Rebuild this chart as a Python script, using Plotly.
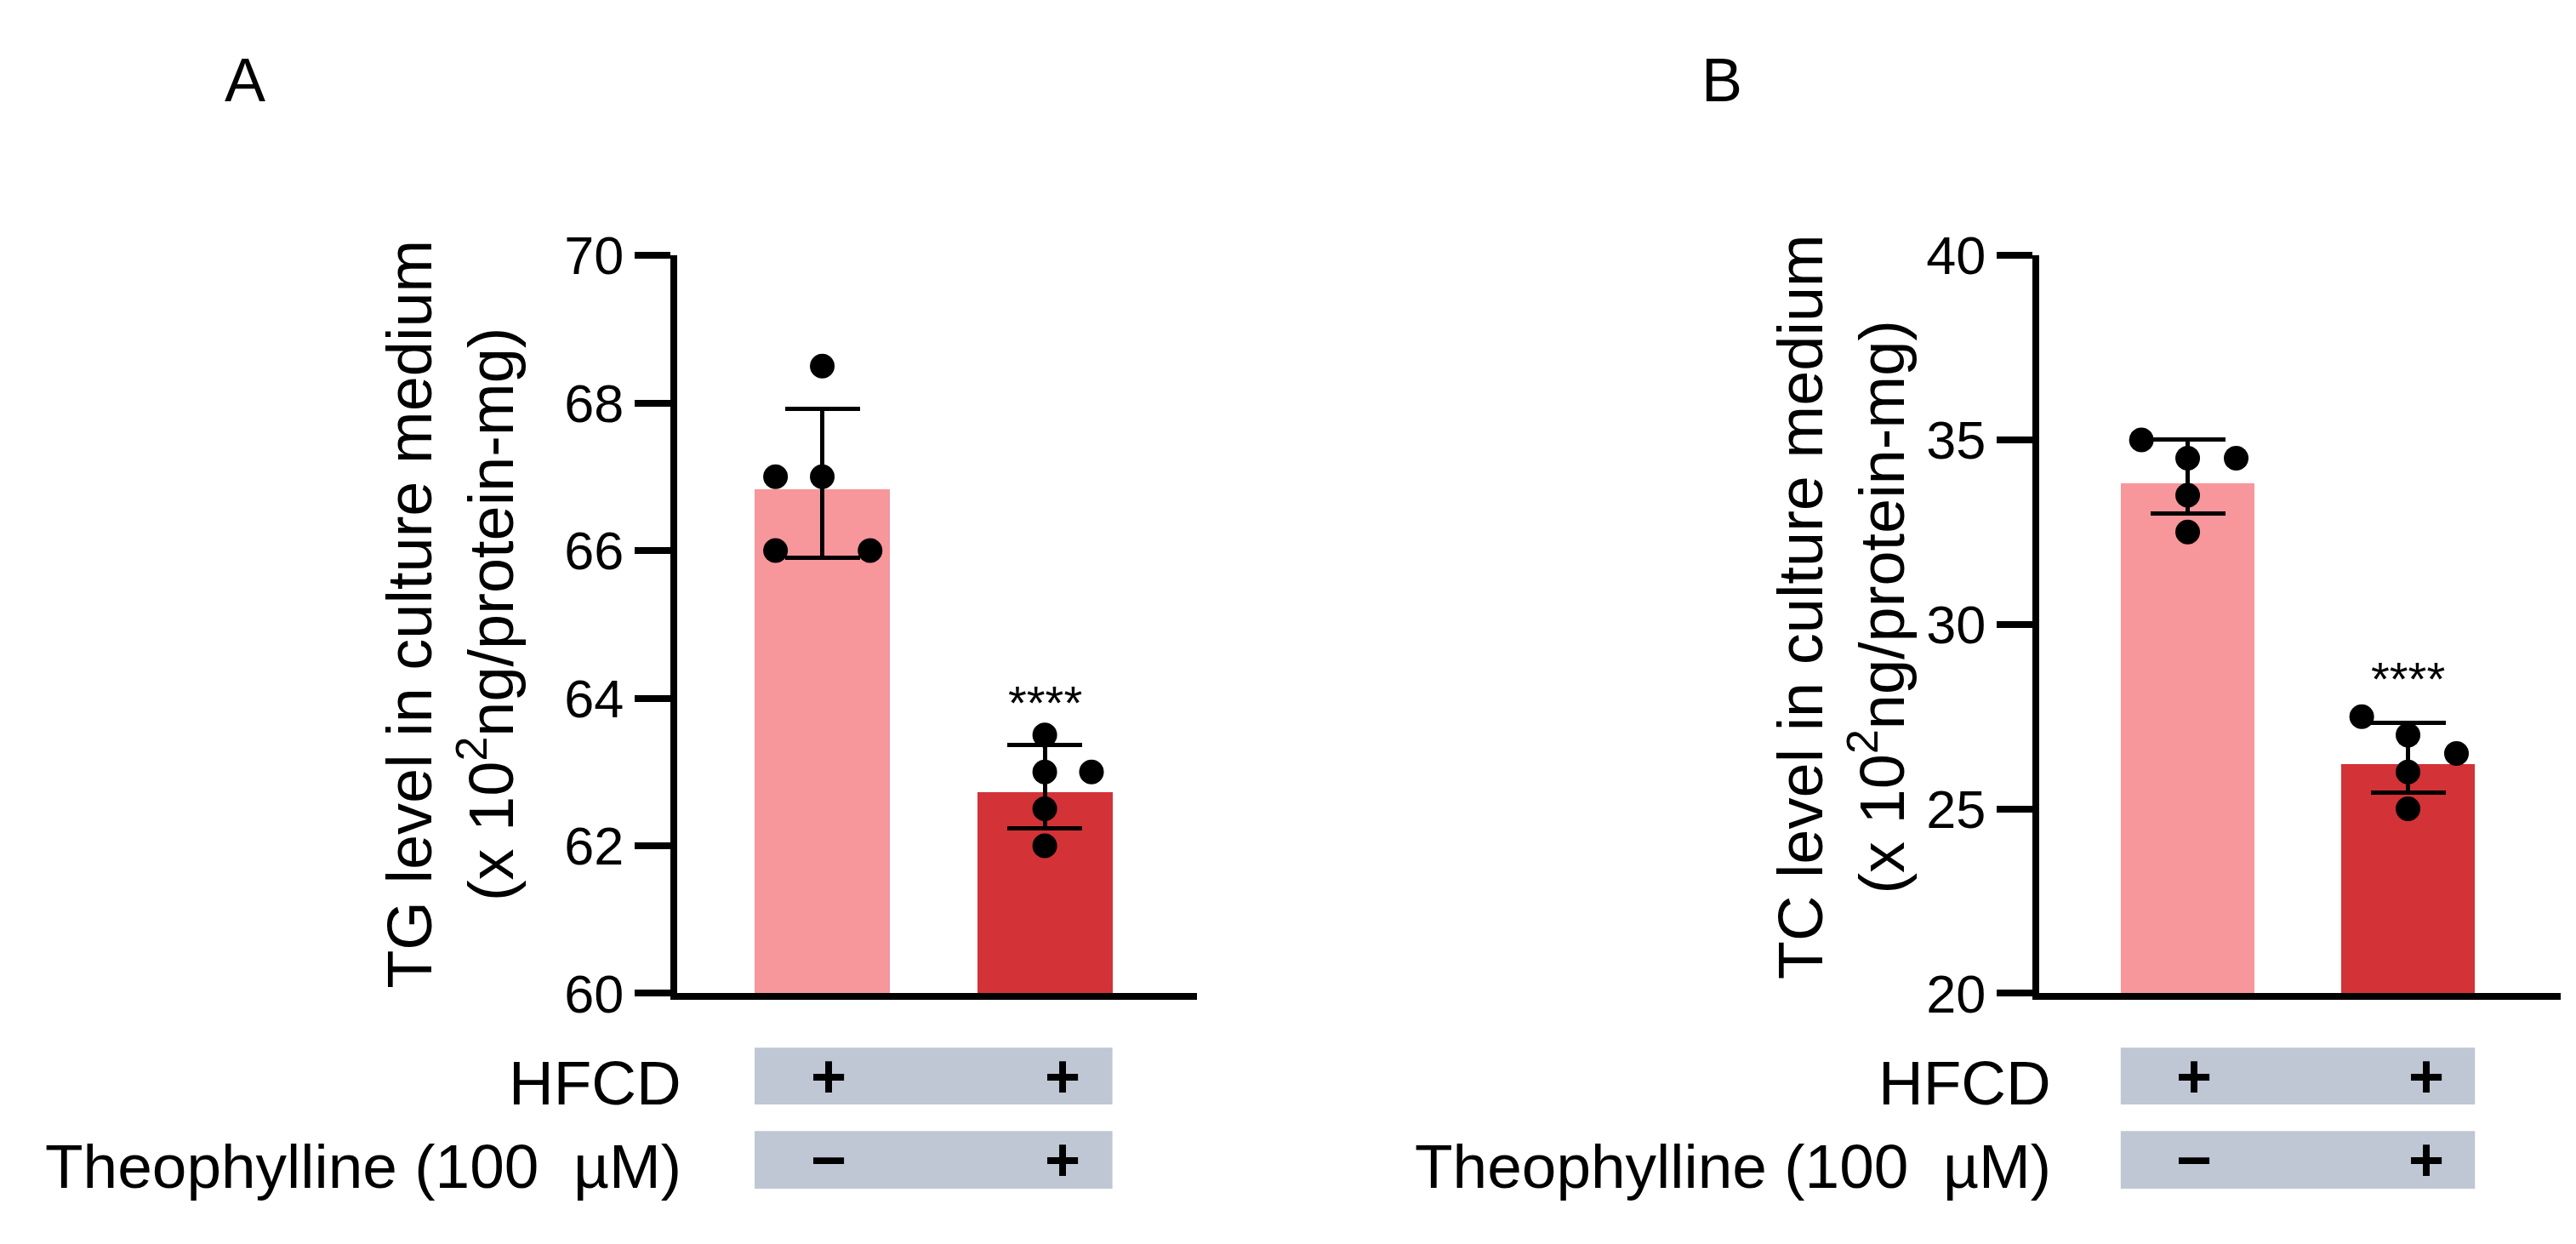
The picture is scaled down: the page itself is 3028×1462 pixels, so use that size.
import plotly.graph_objects as go

# ---------------- data ----------------
groups = ["HFCD", "HFCD + Theophylline"]

tg_mean = [66.83, 62.72]
tg_err_plus = [1.09, 0.65]
tg_err_minus = [0.93, 0.48]
tg_points_ctrl = [68.5, 67.0, 67.0, 66.0, 66.0]
tg_points_theo = [63.5, 63.0, 63.0, 62.5, 62.0]

tc_mean = [33.83, 26.22]
tc_err_plus = [1.17, 1.12]
tc_err_minus = [0.82, 0.79]
tc_points_ctrl = [35.0, 34.5, 34.5, 33.5, 32.5]
tc_points_theo = [27.5, 27.0, 26.5, 26.0, 25.0]

tg_ticks = [60, 62, 64, 66, 68, 70]
tc_ticks = [20, 25, 30, 35, 40]

hfcd_signs = ["+", "+"]
theo_signs = ["\u2212", "+"]
stars = ["", "****"]

# ---------------- style ----------------
W, H = 3028, 1462
FONT = "Liberation Sans, Arial, sans-serif"
BAR_COLORS = ["#F7969B", "#D33237"]
BOX_COLOR = "#BFC7D5"
BAR_W = 0.608
LW = 8

# jitter offsets for the dots (presentation only)
jit_A0 = [0, -0.21, 0, -0.21, 0.215]
jit_A1 = [0, 0, 0.21, 0, 0]
jit_B0 = [-0.21, 0, 0.22, 0, 0]
jit_B1 = [-0.21, 0, 0.22, 0, 0]


def px_x(p):
    return p / W


def px_y(p):
    return 1 - p / H


fig = go.Figure()


def add_panel(xa, ya, means, ep, em, pts0, pts1, j0, j1):
    fig.add_trace(go.Bar(
        x=[0, 1], y=means, width=BAR_W, marker=dict(color=BAR_COLORS, line=dict(width=0)),
        error_y=dict(type="data", symmetric=False, array=ep, arrayminus=em,
                     color="black", thickness=5, width=44),
        xaxis=xa, yaxis=ya, showlegend=False))
    for i, (pts, jit) in enumerate([(pts0, j0), (pts1, j1)]):
        fig.add_trace(go.Scatter(
            x=[i + d for d in jit], y=pts, mode="markers",
            marker=dict(color="black", size=29, line=dict(width=0)),
            xaxis=xa, yaxis=ya, showlegend=False, cliponaxis=False))


add_panel("x", "y", tg_mean, tg_err_plus, tg_err_minus, tg_points_ctrl, tg_points_theo, jit_A0, jit_A1)
add_panel("x2", "y2", tc_mean, tc_err_plus, tc_err_minus, tc_points_ctrl, tc_points_theo, jit_B0, jit_B1)

ydom = [px_y(1181), px_y(270)]
yax_common = dict(showline=True, linewidth=LW, linecolor="black", ticks="outside",
                  ticklen=42, tickwidth=LW, tickcolor="black", showgrid=False,
                  zeroline=False, tickfont=dict(family=FONT, size=63, color="black"),
                  domain=ydom)
xax_common = dict(showline=True, linewidth=LW, linecolor="black", ticks="",
                  showticklabels=False, showgrid=False, zeroline=False)

fig.update_layout(
    width=W, height=H, margin=dict(l=0, r=0, t=0, b=0),
    paper_bgcolor="white", plot_bgcolor="white",
    font=dict(family=FONT, color="black"),
    xaxis=dict(**xax_common, domain=[px_x(788), px_x(1399)], range=[-0.652, 1.684]),
    yaxis=dict(**yax_common, range=[60, 70], tickvals=tg_ticks, anchor="x"),
    xaxis2=dict(**xax_common, domain=[px_x(2389), px_x(3002)], range=[-0.674, 1.693], anchor="y2"),
    yaxis2=dict(**yax_common, range=[20, 40], tickvals=tc_ticks, anchor="x2"),
    bargap=0,
)

ann = []
shapes = []

# panel letters
ann.append(dict(text="A", x=px_x(280), y=px_y(54), xref="paper", yref="paper",
                showarrow=False, font=dict(size=72, family=FONT), xanchor="center", yanchor="middle"))
ann.append(dict(text="B", x=px_x(2016), y=px_y(54), xref="paper", yref="paper",
                showarrow=False, font=dict(size=72, family=FONT), xanchor="center", yanchor="middle"))

# y titles
ann.append(dict(text="TG level in culture medium<br>(x 10<sup>2</sup>ng/protein-mg)",
                x=px_x(522), y=px_y(713), xref="paper", yref="paper", textangle=-90,
                showarrow=False, font=dict(size=74, family=FONT), xanchor="center", yanchor="middle"))
ann.append(dict(text="TC level in culture medium<br>(x 10<sup>2</sup>ng/protein-mg)",
                x=px_x(2156), y=px_y(704), xref="paper", yref="paper", textangle=-90,
                showarrow=False, font=dict(size=74, family=FONT), xanchor="center", yanchor="middle"))

# significance stars
ann.append(dict(text=stars[1], x=1, y=64.08, xref="x", yref="y", showarrow=False, yshift=-12,
                font=dict(size=56, family=FONT), xanchor="center", yanchor="middle"))
ann.append(dict(text=stars[1], x=1, y=28.81, xref="x2", yref="y2", showarrow=False, yshift=-12,
                font=dict(size=56, family=FONT), xanchor="center", yanchor="middle"))

# treatment table
rows = [(hfcd_signs, 1248, 1318, "HFCD"), (theo_signs, 1351, 1422, "Theophylline (100 \u00a0µM)")]
for xref, label_right in [("x", 795), ("x2", 2405)]:
    for signs, top, bot, label in rows:
        shapes.append(dict(type="rect", xref=xref, yref="paper",
                           x0=-BAR_W / 2, x1=1 + BAR_W / 2, y0=px_y(bot), y1=px_y(top),
                           fillcolor=BOX_COLOR, line=dict(width=0), layer="below"))
        for i, s in enumerate(signs):
            ann.append(dict(text="<b>%s</b>" % s, x=i, y=px_y((top + bot) / 2), xref=xref, yref="paper",
                            xshift=7 if i == 0 else 21, showarrow=False,
                            font=dict(size=72, family=FONT), xanchor="center", yanchor="middle"))
        ann.append(dict(text=label, x=px_x(label_right), y=px_y((top + bot) / 2 + 8),
                        xref="paper", yref="paper", showarrow=False,
                        font=dict(size=73, family=FONT), xanchor="right", yanchor="middle"))

fig.update_layout(annotations=ann, shapes=shapes)
fig.write_html("out.html")
